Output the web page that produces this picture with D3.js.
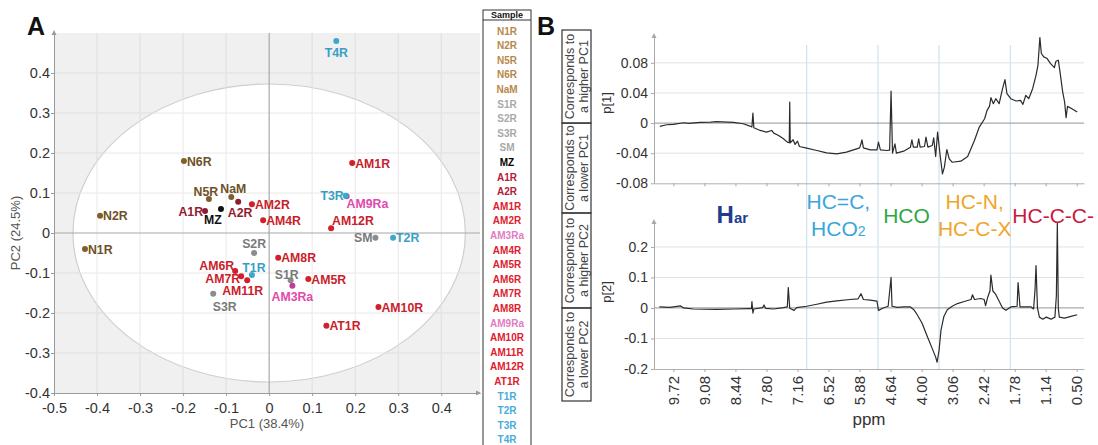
<!DOCTYPE html>
<html><head><meta charset="utf-8">
<script src="https://cdn.jsdelivr.net/npm/d3@7"></script>
<style>
html,body{margin:0;padding:0;background:#fff;}
svg{display:block;}
</style></head><body>
<svg id="c" width="1098" height="445"></svg>
<script>
// ================= DATA =================
// Panel A: PCA scores
const samples = ["N1R","N2R","N5R","N6R","NaM","S1R","S2R","S3R","SM","MZ","A1R","A2R","AM1R","AM2R","AM3Ra","AM4R","AM5R","AM6R","AM7R","AM8R","AM9Ra","AM10R","AM11R","AM12R","AT1R","T1R","T2R","T3R","T4R"];
const groups  = ["N","N","N","N","N","S","S","S","S","MZ","A","A","AM","AM","AMa","AM","AM","AM","AM","AM","AMa","AM","AM","AM","AM","T","T","T","T"];
const pc1 = [-0.428,-0.393,-0.140,-0.198,-0.088, 0.050,-0.035,-0.130, 0.247,-0.112,-0.149,-0.072, 0.193,-0.040, 0.054,-0.014, 0.091,-0.079,-0.065, 0.021, 0.180, 0.254,-0.051, 0.144, 0.133,-0.040, 0.288, 0.178, 0.156];
const pc2 = [-0.040, 0.043, 0.085, 0.180, 0.090,-0.118,-0.050,-0.152,-0.012, 0.060, 0.055, 0.078, 0.175, 0.072,-0.132, 0.032,-0.115,-0.095,-0.108,-0.062, 0.092,-0.185,-0.118, 0.012,-0.232,-0.105,-0.012, 0.093, 0.480];
const pc1Ticks = [-0.5,-0.4,-0.3,-0.2,-0.1,0,0.1,0.2,0.3,0.4];
const pc2Ticks = [-0.4,-0.3,-0.2,-0.1,0,0.1,0.2,0.3,0.4];
const pc1Domain = [-0.5, 0.49];
const pc2Domain = [-0.4, 0.5];
const ellipseRadii = [0.456, 0.3725]; // Hotelling T2 ellipse (PC1, PC2)
const pc1Title = "PC1 (38.4%)";
const pc2Title = "PC2 (24.5%)";

// Panel B: loadings [ppm, value]
const loading1 = [[10.00,-0.0044],[9.86,-0.0022],[9.72,-0.0018],[9.51,0.0004],[9.40,-0.0005],[9.17,0.0009],[8.95,0.0012],[8.83,0.0018],[8.60,0.0012],[8.48,0.0009],[8.28,-0.0009],[8.14,-0.0040],[8.10,-0.0053],[8.08,0.0133],[8.06,-0.0062],[7.93,-0.0098],[7.80,-0.0120],[7.69,-0.0098],[7.65,-0.0133],[7.55,-0.0164],[7.45,-0.0209],[7.37,-0.0253],[7.33,-0.0262],[7.32,0.0280],[7.31,-0.0262],[7.25,-0.0222],[7.21,-0.0284],[7.16,-0.0240],[7.12,-0.0311],[6.97,-0.0333],[6.76,-0.0364],[6.56,-0.0395],[6.35,-0.0408],[6.15,-0.0386],[5.94,-0.0342],[5.88,-0.0329],[5.85,-0.0275],[5.83,-0.0222],[5.80,-0.0329],[5.66,-0.0355],[5.52,-0.0355],[5.49,-0.0253],[5.45,-0.0355],[5.32,-0.0364],[5.26,-0.0360],[4.63,0.0426],[4.60,-0.0400],[4.55,-0.0275],[4.52,-0.0400],[4.37,-0.0373],[4.23,-0.0320],[4.20,-0.0222],[4.17,-0.0320],[4.09,-0.0320],[4.06,-0.0209],[4.03,-0.0320],[3.94,-0.0311],[3.91,-0.0186],[3.87,-0.0320],[3.78,-0.0298],[3.75,-0.0195],[3.71,-0.0444],[3.67,-0.0120],[3.62,-0.0417],[3.57,-0.0675],[3.53,-0.0586],[3.48,-0.0351],[3.43,-0.0475],[3.37,-0.0520],[2.89,-0.0506],[2.75,-0.0444],[2.61,-0.0231],[2.51,-0.0053],[2.40,0.0058],[2.35,0.0169],[2.30,0.0222],[2.27,0.0337],[2.22,0.0258],[2.17,0.0324],[2.10,0.0258],[2.03,0.0457],[1.98,0.0577],[1.94,0.0391],[1.86,0.0324],[1.75,0.0293],[1.66,0.0302],[1.61,0.0249],[1.55,0.0369],[1.49,0.0324],[1.41,0.0457],[1.34,0.0635],[1.30,0.0768],[1.26,0.1137],[1.23,0.0924],[1.18,0.0879],[1.11,0.0857],[1.04,0.0790],[0.96,0.0737],[0.93,0.0821],[0.88,0.0835],[0.84,0.0657],[0.79,0.0413],[0.75,0.0280],[0.72,0.0071],[0.69,0.0222],[0.60,0.0191],[0.49,0.0147]];
const loading2 = [[10.01,0.0033],[9.79,0.0022],[9.57,0.0067],[9.51,0.0000],[9.31,-0.0033],[8.83,-0.0044],[8.48,-0.0033],[8.14,-0.0022],[8.11,-0.0022],[8.10,0.0211],[8.08,-0.0167],[8.06,-0.0033],[7.88,0.0011],[7.85,0.0100],[7.82,-0.0011],[7.65,-0.0033],[7.45,0.0011],[7.37,0.0033],[7.35,0.0667],[7.32,-0.0011],[7.23,-0.0078],[7.18,0.0011],[6.97,0.0056],[6.76,0.0122],[6.56,0.0189],[6.35,0.0233],[6.08,0.0278],[5.91,0.0300],[5.85,0.0467],[5.80,0.0278],[5.66,0.0256],[5.52,0.0222],[5.49,-0.0078],[5.39,0.0000],[5.29,0.0056],[4.63,0.1000],[4.61,0.0056],[4.50,0.0022],[4.37,0.0033],[4.23,0.0033],[4.16,-0.0056],[4.09,-0.0222],[3.99,-0.0500],[3.88,-0.0944],[3.78,-0.1333],[3.71,-0.1611],[3.68,-0.1778],[3.64,-0.1389],[3.60,-0.0722],[3.54,-0.0278],[3.47,-0.0056],[3.37,0.0056],[2.96,0.0144],[2.82,0.0211],[2.68,0.0278],[2.65,0.0433],[2.61,0.0278],[2.48,0.0311],[2.41,0.0278],[2.38,0.0078],[2.34,0.0333],[2.29,0.0556],[2.27,0.1078],[2.23,0.0556],[2.17,0.0444],[2.10,0.0222],[2.03,0.0000],[1.96,-0.0078],[1.86,0.0033],[1.73,0.0056],[1.71,0.0833],[1.67,0.0033],[1.44,0.0033],[1.39,-0.0033],[1.36,0.0600],[1.34,0.1389],[1.31,0.0000],[1.27,-0.0300],[1.20,-0.0367],[1.13,-0.0300],[1.03,-0.0367],[0.95,-0.0300],[0.92,0.0400],[0.90,0.2790],[0.88,0.0000],[0.86,-0.0300],[0.75,-0.0333],[0.62,-0.0278],[0.49,-0.0222]];
const ppmDomain = [10.12, 0.35];
const ppmExcluded = [[5.24,4.64],[3.36,3.06]];
const ppmTicks = [9.72,9.08,8.44,7.80,7.16,6.52,5.88,4.64,4.00,3.06,2.42,1.78,1.14,0.50];
const p1Ticks = [-0.08,-0.04,0,0.04,0.08];
const p1Domain = [-0.08, 0.117];
const p2Ticks = [-0.2,-0.1,0,0.1,0.2];
const p2Domain = [-0.2, 0.285];
const regionBounds = [6.97, 5.50, 3.64, 1.87];
const regionLabels = [
  {lines:[["H","ar"]], color:"#1f3d8c"},
  {lines:[["HC=C,"],["HCO","2"]], color:"#3aa6dc"},
  {lines:[["HCO"]], color:"#2ea743"},
  {lines:[["HC-N,"],["HC-C-X"]], color:"#f0a52a"},
  {lines:[["HC-C-C-"]], color:"#c8193a"}
];
const sideBoxTexts = [
  ["Corresponds to","a higher PC1"],
  ["Corresponds to","a lower PC1"],
  ["Corresponds to","a higher PC2"],
  ["Corresponds to","a lower PC2"]
];

// ================= STYLES =================
const FONT = '"Liberation Sans", Arial, Helvetica, sans-serif';
const groupColors = {
  N:   {dot:"#7f5f2e", label:"#6e5127", legend:"#b8894c"},
  S:   {dot:"#8c8c8c", label:"#7a7a7a", legend:"#a8a8a8"},
  MZ:  {dot:"#111111", label:"#111111", legend:"#000000"},
  A:   {dot:"#8e1b2e", label:"#941b30", legend:"#b3203a"},
  AM:  {dot:"#d21f2b", label:"#c91d2c", legend:"#e0202e"},
  AMa: {dot:"#c03d98", label:"#e04aaa", legend:"#e27cc2"},
  T:   {dot:"#3ca8cc", label:"#3a9ec4", legend:"#48acdc"}
};
// label placement: [anchor, dx, dy]
const labelPlace = {
  T4R:["middle",0,15.5], MZ:["middle",-8,14.5], A1R:["end",-2,5], A2R:["middle",2,15.5],
  N5R:["middle",-3,-3.5], NaM:["middle",2,-4.5], T3R:["end",-2,4], AM9Ra:["start",0,12],
  AM12R:["start",1,-3.5], SM:["end",-3,4.5], S1R:["middle",-4,-1.5], AM3Ra:["middle",0,15.5],
  S2R:["middle",0,-5.5], T1R:["middle",2,-3.5], AM6R:["end",-1,-1], AM7R:["end",-1,6.5],
  AM11R:["middle",-4.5,14.5], S3R:["middle",11.5,17]
};

const svg = d3.select("#c").style("font-family", FONT);

// ================= PANEL A =================
const A = {l:54, r:480, t:33, b:393};
const xA = d3.scaleLinear().domain(pc1Domain).range([A.l, A.r]);
const yA = d3.scaleLinear().domain(pc2Domain).range([A.b, A.t]);
const fmt1 = d => d === 0 ? "0" : d.toFixed(1);

const gA = svg.append("g");
gA.append("rect").attr("x",A.l).attr("y",A.t).attr("width",A.r-A.l).attr("height",A.b-A.t).attr("fill","#f0f0f0");
function drawGridA(g, col){
  g.selectAll(null).data(pc1Ticks.filter(d=>d!==pc1Domain[0] && d!==0)).enter().append("line")
    .attr("x1",d=>xA(d)).attr("x2",d=>xA(d)).attr("y1",A.t).attr("y2",A.b).attr("stroke",col).attr("stroke-width",1);
  g.selectAll(null).data(pc2Ticks.filter(d=>d!==pc2Domain[0] && d!==0)).enter().append("line")
    .attr("y1",d=>yA(d)).attr("y2",d=>yA(d)).attr("x1",A.l).attr("x2",A.r).attr("stroke",col).attr("stroke-width",1);
}
drawGridA(gA.append("g"), "#dfdfdf");
gA.append("ellipse").attr("cx",xA(0)).attr("cy",yA(0))
  .attr("rx",xA(ellipseRadii[0])-xA(0)).attr("ry",yA(0)-yA(ellipseRadii[1]))
  .attr("fill","#ffffff").attr("stroke","#cfcfcf").attr("stroke-width",1.2);
drawGridA(gA.append("g").attr("opacity",0.85), "#e6e6e6");
// zero lines
gA.append("line").attr("x1",xA(0)).attr("x2",xA(0)).attr("y1",A.t).attr("y2",A.b).attr("stroke","#a8a8a8").attr("stroke-width",1.2);
gA.append("line").attr("y1",yA(0)).attr("y2",yA(0)).attr("x1",A.l).attr("x2",A.r).attr("stroke","#a8a8a8").attr("stroke-width",1.2);

// axes
const axX = gA.append("g").attr("transform",`translate(0,${A.b})`)
  .call(d3.axisBottom(xA).tickValues(pc1Ticks).tickFormat(fmt1).tickSize(3).tickSizeOuter(0));
const axY = gA.append("g").attr("transform",`translate(${A.l},0)`)
  .call(d3.axisLeft(yA).tickValues(pc2Ticks).tickFormat(fmt1).tickSize(3).tickSizeOuter(0));
[axX, axY].forEach(g=>{
  g.select(".domain").attr("stroke","#9a9a9a");
  g.selectAll(".tick line").attr("stroke","#9a9a9a");
  g.selectAll(".tick text").attr("fill","#333").style("font-size","14.5px").style("font-family",FONT);
});
axX.selectAll(".tick text").attr("dy","0.95em");
axY.selectAll(".tick text").attr("x",-4);
// arrows
gA.append("path").attr("d",`M${A.r+1},${A.b} l-5,-2.5 l0,5 z`).attr("fill","#9a9a9a");
gA.append("path").attr("d",`M${A.l},${A.t-3} l-2.5,5 l5,0 z`).attr("fill","#9a9a9a");

// titles
gA.append("text").attr("x",(A.l+A.r)/2).attr("y",428).attr("text-anchor","middle")
  .attr("fill","#555").style("font-size","13px").text(pc1Title);
gA.append("text").attr("transform",`translate(20,${yA(0)}) rotate(-90)`).attr("text-anchor","middle")
  .attr("fill","#555").style("font-size","13px").text(pc2Title);

// points
const pts = samples.map((s,i)=>({name:s, g:groups[i], x:pc1[i], y:pc2[i]}));
const gP = gA.append("g");
gP.selectAll("circle").data(pts).enter().append("circle")
  .attr("cx",d=>xA(d.x)).attr("cy",d=>yA(d.y)).attr("r",3)
  .attr("fill",d=>groupColors[d.g].dot);
gP.selectAll("text").data(pts).enter().append("text")
  .each(function(d){
    const p = labelPlace[d.name] || ["start",3,4.5];
    d3.select(this).attr("x",xA(d.x)+p[1]).attr("y",yA(d.y)+p[2]).attr("text-anchor",p[0]);
  })
  .attr("fill",d=>groupColors[d.g].label).style("font-size","12.3px").style("font-weight","bold")
  .text(d=>d.name);

// panel letter
svg.append("text").attr("x",27).attr("y",35).style("font-size","25px").style("font-weight","bold").attr("fill","#111").text("A");

// ================= LEGEND =================
const L = {l:483, r:531, t:10, rowY0:31, rowH:14.6};
const gL = svg.append("g");
gL.append("rect").attr("x",L.l).attr("y",L.t).attr("width",L.r-L.l).attr("height",450-L.t)
  .attr("fill","none").attr("stroke","#333").attr("stroke-width",1);
gL.append("line").attr("x1",L.l).attr("x2",L.r).attr("y1",20).attr("y2",20).attr("stroke","#333");
gL.append("text").attr("x",(L.l+L.r)/2).attr("y",18).attr("text-anchor","middle")
  .style("font-size","9px").style("font-weight","bold").attr("fill","#111").text("Sample");
gL.selectAll("text.row").data(pts).enter().append("text").attr("class","row")
  .attr("x",(L.l+L.r)/2).attr("y",(d,i)=>L.rowY0 + i*L.rowH + 3.6).attr("text-anchor","middle")
  .style("font-size","10px").style("font-weight","bold").attr("fill",d=>groupColors[d.g].legend).text(d=>d.name);

// ================= PANEL B =================
const B = {l:654, r:1084, t1:35, b1:183.3, t2:221, b2:369};
// piecewise ppm scale collapsing excluded regions
const totalSpan = (ppmDomain[0]-ppmDomain[1]) - d3.sum(ppmExcluded, e=>e[0]-e[1]);
const pxPerPpm = (B.r-B.l)/totalSpan;
const dom=[ppmDomain[0]], rng=[B.l];
let cur = B.l, last = ppmDomain[0];
ppmExcluded.forEach(([a,b])=>{
  cur += (last-a)*pxPerPpm; dom.push(a, b); rng.push(cur, cur); last = b;
});
dom.push(ppmDomain[1]); rng.push(B.r);
const xB = d3.scaleLinear().domain(dom).range(rng);
const y1 = d3.scaleLinear().domain(p1Domain).range([B.b1, B.t1]);
const y2 = d3.scaleLinear().domain(p2Domain).range([B.b2, B.t2]);
const gB = svg.append("g");

// region separators
gB.selectAll("line.reg").data(regionBounds).enter().append("line").attr("class","reg")
  .attr("x1",d=>xB(d)).attr("x2",d=>xB(d)).attr("y1",45).attr("y2",B.b2)
  .attr("stroke","#c9dfec").attr("stroke-width",1.1);

function panelB(y, ticks, top, bottom, data, showX){
  const g = gB.append("g");
  g.selectAll("line.gr").data(ticks.filter(d=>d!==ticks[0])).enter().append("line")
    .attr("x1",B.l).attr("x2",B.r).attr("y1",d=>y(d)).attr("y2",d=>y(d))
    .attr("stroke",d=>d===0?"#a9a9a9":"#e2e2e2").attr("stroke-width",d=>d===0?1.3:1);
  const ay = g.append("g").attr("transform",`translate(${B.l},0)`)
    .call(d3.axisLeft(y).tickValues(ticks).tickFormat(d=>d===0?"0":String(d)).tickSize(3).tickSizeOuter(0));
  ay.select(".domain").attr("stroke","#a8a8a8");
  ay.selectAll(".tick line").attr("stroke","#a8a8a8");
  ay.selectAll(".tick text").attr("fill","#333").attr("x",-6).style("font-size","14px").style("font-family",FONT);
  g.append("path").attr("d",`M${B.l},${top-2} l-2.5,5 l5,0 z`).attr("fill","#a8a8a8");
  const ax = g.append("g").attr("transform",`translate(0,${bottom})`)
    .call(d3.axisBottom(xB).tickValues(ppmTicks).tickFormat(d=>d.toFixed(2)).tickSize(3).tickSizeOuter(0));
  ax.select(".domain").attr("stroke","#b0b0b0");
  ax.selectAll(".tick line").attr("stroke","#a8a8a8");
  if(showX){
    ax.selectAll(".tick text").attr("fill","#333").style("font-size","15px").style("font-family",FONT)
      .attr("text-anchor","end").attr("dy",null).attr("y",null)
      .attr("transform","translate(5,7) rotate(-90)");
  } else {
    ax.selectAll(".tick text").remove();
  }
  g.append("path").datum(data)
    .attr("d",d3.line().x(d=>xB(d[0])).y(d=>y(d[1])))
    .attr("fill","none").attr("stroke","#2b2b2b").attr("stroke-width",1.2).attr("stroke-linejoin","round");
}
panelB(y1, p1Ticks, B.t1, B.b1, loading1, false);
panelB(y2, p2Ticks, B.t2, B.b2, loading2, true);

// axis labels B
gB.append("text").attr("transform","translate(611,103) rotate(-90)").attr("text-anchor","middle")
  .style("font-size","13px").attr("fill","#333").text("p[1]");
gB.append("text").attr("transform","translate(611,292) rotate(-90)").attr("text-anchor","middle")
  .style("font-size","13px").attr("fill","#333").text("p[2]");
gB.append("text").attr("x",(B.l+B.r)/2).attr("y",425).attr("text-anchor","middle")
  .style("font-size","17px").attr("fill","#333").text("ppm");

// region labels
const bounds = [ppmDomain[0], ...regionBounds, ppmDomain[1]].map(d=>xB(d));
const regDx = [2, -4, -2, 0, 6];
regionLabels.forEach((r,i)=>{
  const cx = (bounds[i]+bounds[i+1])/2 + regDx[i];
  const ys = r.lines.length===1 ? [223] : [209, 236];
  r.lines.forEach((ln,j)=>{
    const t = gB.append("text").attr("x",cx).attr("y",ys[j]).attr("text-anchor","middle")
      .attr("fill",r.color).style("font-size","21px");
    if(i===0){
      t.append("tspan").text(ln[0]).style("font-size","24px").style("font-weight","bold");
      t.append("tspan").text(ln[1]).style("font-size","15px").style("font-weight","bold");
    } else {
      t.append("tspan").text(ln[0]);
      if(ln[1]) t.append("tspan").text(ln[1]).style("font-size","14px");
    }
  });
});

// side boxes
const boxX = [562, 591];
const boxY = [30, y1(0), 213, y2(0), 401];
sideBoxTexts.forEach((tx,i)=>{
  const t0 = boxY[i], t1 = boxY[i+1];
  gB.append("rect").attr("x",boxX[0]).attr("y",t0).attr("width",boxX[1]-boxX[0]).attr("height",t1-t0)
    .attr("fill","none").attr("stroke","#333").attr("stroke-width",1.2);
  const cy = (t0+t1)/2;
  gB.append("text").attr("transform",`translate(574,${cy}) rotate(-90)`).attr("text-anchor","middle")
    .style("font-size","12.5px").attr("fill","#444").text(tx[0]);
  gB.append("text").attr("transform",`translate(587.5,${cy}) rotate(-90)`).attr("text-anchor","middle")
    .style("font-size","12.5px").attr("fill","#444").text(tx[1]);
});

svg.append("text").attr("x",537).attr("y",35).style("font-size","25px").style("font-weight","bold").attr("fill","#111").text("B");
</script>
</body></html>
